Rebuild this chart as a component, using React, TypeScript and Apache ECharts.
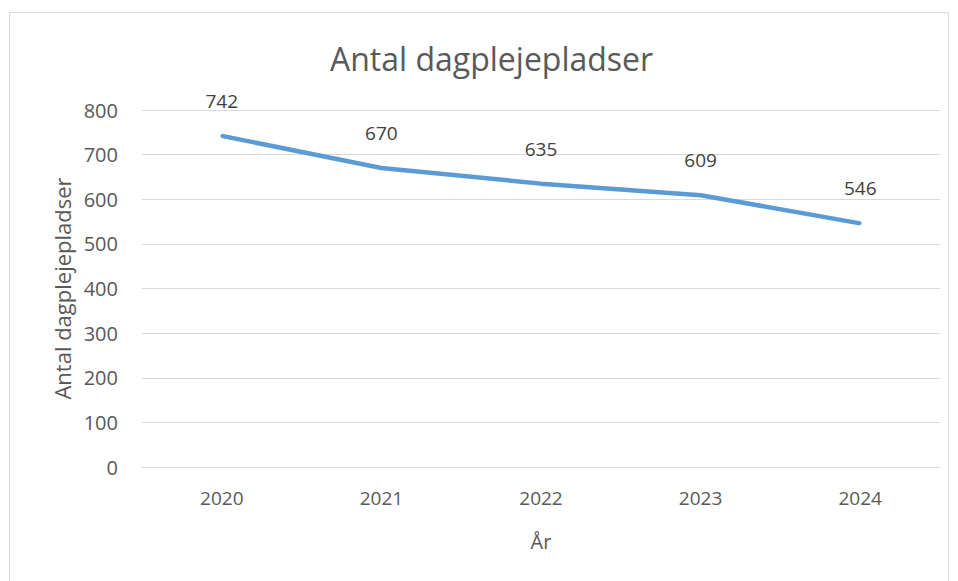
import React, { useEffect, useRef } from "react";
import * as echarts from "echarts";

const categories = ["2020", "2021", "2022", "2023", "2024"];
const values = [742, 670, 635, 609, 546];
const title = "Antal dagplejepladser";
const yName = "Antal dagplejepladser";
const xName = "År";

export default function App() {
  const ref = useRef<HTMLDivElement>(null);
  useEffect(() => {
    document.body.style.margin = "0";
    const chart = echarts.init(ref.current!, null, { renderer: "svg" });
    const font = "'Open Sans', sans-serif";
    chart.setOption({
      animation: false,
      backgroundColor: "#ffffff",
      textStyle: { fontFamily: font },
      title: {
        text: title,
        left: 325,
        top: 37,
        textStyle: { fontFamily: font, fontSize: 32, fontWeight: "normal", color: "#595959" },
      },
      graphic: [
        {
          type: "rect",
          shape: { x: 9.5, y: 12.5, width: 939, height: 600 },
          style: { fill: "none", stroke: "#d9d9d9", lineWidth: 1 },
          silent: true,
        },
      ],
      grid: { left: 142, right: 18, top: 110, bottom: 114, containLabel: false },
      xAxis: {
        type: "category",
        data: categories,
        name: xName,
        nameLocation: "middle",
        nameGap: 64,
        nameTextStyle: { fontSize: 20, color: "#595959", fontFamily: font },
        axisLine: { show: true, lineStyle: { color: "#d9d9d9", width: 1 } },
        axisTick: { show: false },
        axisLabel: { fontSize: 19, color: "#595959", margin: 21, fontFamily: font },
      },
      yAxis: {
        type: "value",
        min: 0,
        max: 800,
        interval: 100,
        name: yName,
        nameLocation: "middle",
        nameGap: 68,
        nameRotate: 90,
        nameTextStyle: { fontSize: 22, color: "#595959", fontFamily: font },
        axisLine: { show: false },
        axisTick: { show: false },
        axisLabel: { fontSize: 20, color: "#595959", margin: 24, fontFamily: font },
        splitLine: { lineStyle: { color: "#d9d9d9", width: 1 } },
      },
      series: [
        {
          type: "line",
          data: values,
          showSymbol: true,
          symbol: "circle",
          symbolSize: 3,
          lineStyle: { color: "#5B9BD5", width: 4.5 },
          itemStyle: { color: "#5B9BD5", borderWidth: 0 },
          label: {
            show: true,
            position: "top",
            distance: 24,
            fontSize: 19,
            color: "#404040",
            fontFamily: font,
          },
        },
      ],
    });
    return () => chart.dispose();
  }, []);
  return <div ref={ref} style={{ width: 958, height: 581 }} />;
}
